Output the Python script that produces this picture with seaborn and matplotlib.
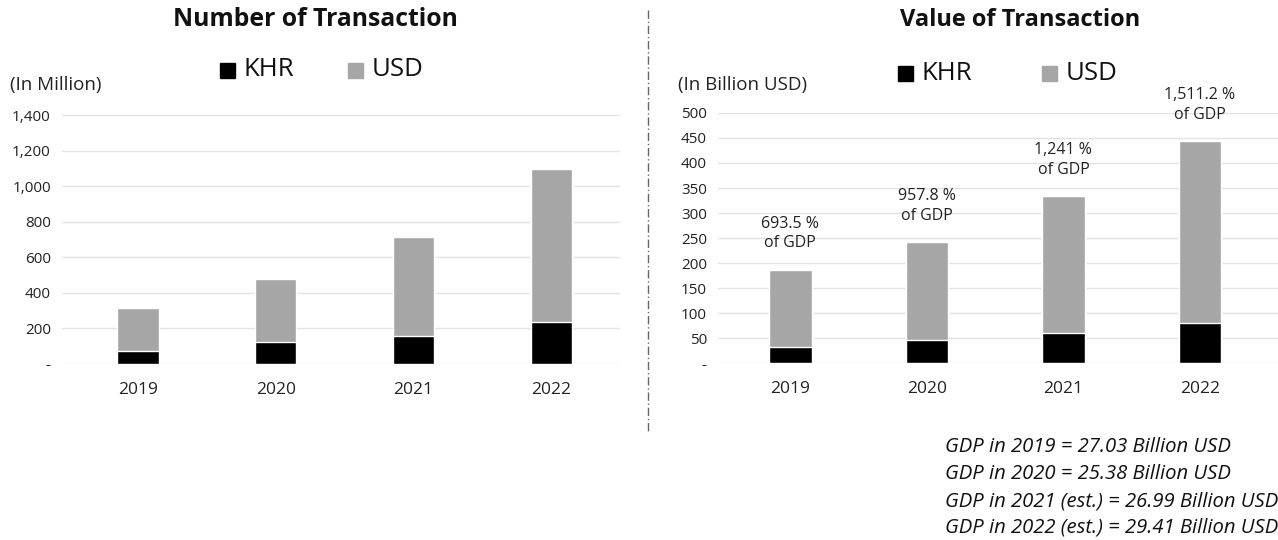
import pandas as pd
import matplotlib.pyplot as plt
import seaborn as sns

years = ["2019", "2020", "2021", "2022"]

# Number of transactions (million)
num_khr = [72, 122, 157, 235]
num_usd = [243, 356, 557, 864]

# Value of transactions (billion USD)
val_khr = [32, 47, 61, 81]
val_usd = [155.4, 196.1, 273.9, 363.4]
gdp_share = ["693.5 %", "957.8 %", "1,241 %", "1,511.2 %"]

gdp_notes = [
    "GDP in 2019 = 27.03 Billion USD",
    "GDP in 2020 = 25.38 Billion USD",
    "GDP in 2021 (est.) = 26.99 Billion USD",
    "GDP in 2022 (est.) = 29.41 Billion USD",
]

sns.set_style("white")
plt.rcParams["font.family"] = ["Open Sans", "DejaVu Sans"]

KHR_COLOR = "#000000"
USD_COLOR = "#a6a6a6"

fig = plt.figure(figsize=(12.78, 5.4), dpi=100)


def stacked(ax, khr, usd, ymax, step, width):
    df = pd.DataFrame({"Year": years, "KHR": khr, "USD": usd})
    df["Total"] = df["KHR"] + df["USD"]
    sns.barplot(data=df, x="Year", y="Total", color=USD_COLOR, width=width,
                saturation=1, edgecolor="white", linewidth=1, ax=ax, zorder=2)
    sns.barplot(data=df, x="Year", y="KHR", color=KHR_COLOR, width=width,
                saturation=1, edgecolor="white", linewidth=1, ax=ax, zorder=3)
    ax.set_ylim(0, ymax)
    ticks = list(range(0, ymax + 1, step))
    ax.set_yticks(ticks)
    ax.set_yticklabels(["-"] + [f"{t:,}" for t in ticks[1:]], fontsize=11,
                       color="#222222")
    ax.tick_params(axis="x", labelsize=12.5, colors="#222222", pad=13, length=0)
    ax.tick_params(axis="y", length=0, pad=8)
    ax.yaxis.grid(True, color="#e3e3e3", linewidth=1, zorder=0)
    ax.set_axisbelow(True)
    for s in ax.spines.values():
        s.set_visible(False)
    ax.set_xlabel("")
    ax.set_ylabel("")
    return df


ax1 = fig.add_axes([0.0485, 0.326, 0.437, 0.461])
stacked(ax1, num_khr, num_usd, 1400, 200, 0.3)
ax1.set_xlim(-0.55, 3.5)

ax2 = fig.add_axes([0.5618, 0.327, 0.438, 0.464])
df2 = stacked(ax2, val_khr, val_usd, 500, 50, 0.31)
ax2.set_xlim(-0.53, 3.57)
for i, (tot, lab) in enumerate(zip(df2["Total"], gdp_share)):
    ax2.annotate(f"{lab}\nof GDP", (i, tot), xytext=(0, 13),
                 textcoords="offset points", ha="center", va="bottom",
                 fontsize=11.5, color="#222222", linespacing=1.3)

# titles
fig.text(315 / 1278, 1 - 20 / 540, "Number of Transaction", ha="center",
         va="center", fontsize=17.8, fontweight="bold", color="#111111")
fig.text(1020 / 1278, 1 - 20 / 540, "Value of Transaction", ha="center",
         va="center", fontsize=17, fontweight="bold", color="#111111")

# unit labels
fig.text(10 / 1278, 1 - 85 / 540, "(In Million)", ha="left", va="center",
         fontsize=13.5, color="#222222")
fig.text(678 / 1278, 1 - 85 / 540, "(In Billion USD)", ha="left", va="center",
         fontsize=13.5, color="#222222")


# legends
def legend(x0, y, gap):
    for dx, col, name in [(0, KHR_COLOR, "KHR"), (gap, USD_COLOR, "USD")]:
        fig.patches.append(plt.Rectangle(((x0 + dx) / 1278, 1 - (y + 8) / 540),
                                         15 / 1278, 15 / 540, color=col,
                                         transform=fig.transFigure,
                                         figure=fig))
        fig.text((x0 + dx + 24) / 1278, 1 - y / 540, name, ha="left",
                 va="center", fontsize=18.5, color="#111111")


legend(220, 70, 128)
legend(898, 73, 144)

# divider
fig.add_artist(plt.Line2D([648 / 1278, 648 / 1278], [1 - 10 / 540, 1 - 432 / 540],
                          transform=fig.transFigure, color="#666666",
                          linewidth=1, linestyle=(0, (6, 2, 1, 2))))

# GDP notes
for k, line in enumerate(gdp_notes):
    fig.text(945 / 1278, 1 - (447 + 27 * k) / 540, line, ha="left",
             va="center", fontsize=14.6, style="italic", color="#111111")

fig.savefig("out.png", dpi=100)
